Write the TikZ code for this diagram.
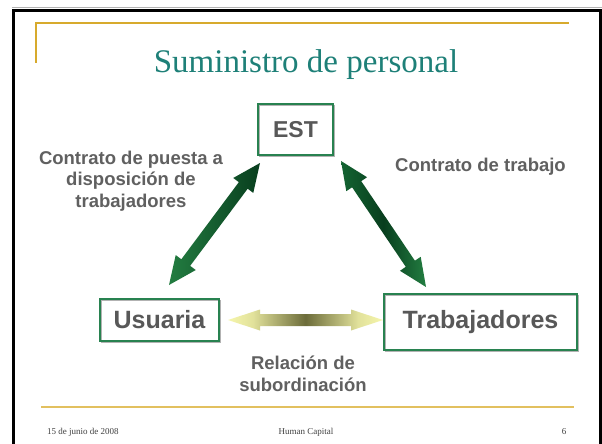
\documentclass[tikz,border=0pt]{standalone}
\usepackage{fontspec}
\setmainfont{Liberation Serif}
\newfontfamily\arialfont{Liberation Sans}
\usetikzlibrary{calc}
\definecolor{titleteal}{RGB}{30,128,120}
\definecolor{goldA}{RGB}{215,170,45}
\definecolor{goldB}{RGB}{226,192,95}
\definecolor{boxgreen}{RGB}{40,130,80}
\definecolor{boxtext}{RGB}{88,88,88}
\definecolor{labeltext}{RGB}{96,96,96}
\definecolor{gdark}{RGB}{8,62,30}
\definecolor{gmid}{RGB}{20,100,50}
\definecolor{glight}{RGB}{35,125,65}
\definecolor{ylight}{RGB}{246,246,172}
\definecolor{ydark}{RGB}{108,108,58}
\pgfdeclarehorizontalshading{yarrowshade}{100bp}{color(0bp)=(ylight); color(25bp)=(ylight); color(33bp)=(ylight!85!ydark); color(50bp)=(ydark); color(67bp)=(ylight!85!ydark); color(75bp)=(ylight); color(100bp)=(ylight)}
\newcommand{\dblarrow}[6]{%
  \path let \p1=(#1), \p2=(#2), \n1={atan2(\y2-\y1,\x2-\x1)}, \n2={veclen(\x2-\x1,\y2-\y1)} in
    \pgfextra{\pgfmathparse{\n1}\xdef\arrang{\pgfmathresult}\pgfmathparse{\n2}\xdef\arrlen{\pgfmathresult}};
  \begin{scope}[shift={(#1)}, rotate=\arrang]
    \shade[#6] (0pt,0pt) -- (#5pt,#4pt) -- (#5pt,#3pt) -- ({\arrlen pt-#5pt},#3pt) -- ({\arrlen pt-#5pt},#4pt)
      -- (\arrlen pt,0pt) -- ({\arrlen pt-#5pt},-#4pt) -- ({\arrlen pt-#5pt},-#3pt) -- (#5pt,-#3pt) -- (#5pt,-#4pt) -- cycle;
  \end{scope}%
}
\tikzset{
  box/.style={draw=boxgreen, line width=1.1pt, inner sep=0pt, text=boxtext,
    font=\arialfont\bfseries\fontsize{25}{28}\selectfont,
    preaction={draw=gray!60, line width=1pt, transform canvas={shift={(1.4pt,-1.4pt)}}}},
  lbl/.style={align=center, text=labeltext, inner sep=0pt,
    font=\arialfont\bfseries\fontsize{18.5}{21.5}\selectfont},
  foot/.style={inner sep=0pt, text=black!75, font=\fontsize{9}{10}\selectfont},
}
\begin{document}
\begin{tikzpicture}[x=1pt,y=-1pt]
\useasboundingbox (0,0) rectangle (602,444);
\fill[white] (0,0) rectangle (602,444);
% slide frame
\draw[gray!60, line width=1pt] (12,8) -- (602,8);
\draw[black, line width=3pt] (13.5,460) -- (13.5,10.5) -- (600.5,10.5) -- (600.5,460);
% gold lines
\draw[goldA, line width=1.5pt] (36,63) -- (36,23) -- (569,23);
\draw[goldB, line width=2pt] (41,407) -- (574,407);
% title
\node[anchor=base, text=titleteal, inner sep=0pt, font=\fontsize{33}{36}\selectfont] (title) at (306,73) {Suministro de personal};
% boxes
\node[box, minimum width=75pt, minimum height=51pt, font=\arialfont\bfseries\fontsize{23}{26}\selectfont] (est) at (295.5,129.5) {EST};
\node[box, minimum width=119pt, minimum height=42pt] (usu) at (159.5,320) {Usuaria};
\node[box, minimum width=193pt, minimum height=56pt] (trab) at (480.5,322) {Trabajadores};
% arrow end points
\coordinate (lA) at (169,285);
\coordinate (lB) at (260,163);
\coordinate (rA) at (426,287);
\coordinate (rB) at (341,161);
\coordinate (hA) at (228,320);
\coordinate (hB) at (383,320);
\dblarrow{lA}{lB}{5.5}{12.5}{28}{left color=glight, right color=gdark}
\dblarrow{rA}{rB}{5.5}{12.5}{28}{left color=gmid, right color=glight, middle color=gdark}
\dblarrow{hA}{hB}{6}{10.5}{32}{shading=yarrowshade}
% labels
\node[lbl] (l1) at (131,181) {Contrato de puesta a\\disposición de\\trabajadores};
\node[lbl] (l2) at (480.5,167) {Contrato de trabajo};
\node[lbl] (l3) at (303,374) {Relación de\\subordinación};
% footer
\node[foot, anchor=west] (f1) at (47,432) {15 de junio de 2008};
\node[foot] (f2) at (306,432) {Human Capital};
\node[foot] (f3) at (564,432) {6};
\end{tikzpicture}
\end{document}
